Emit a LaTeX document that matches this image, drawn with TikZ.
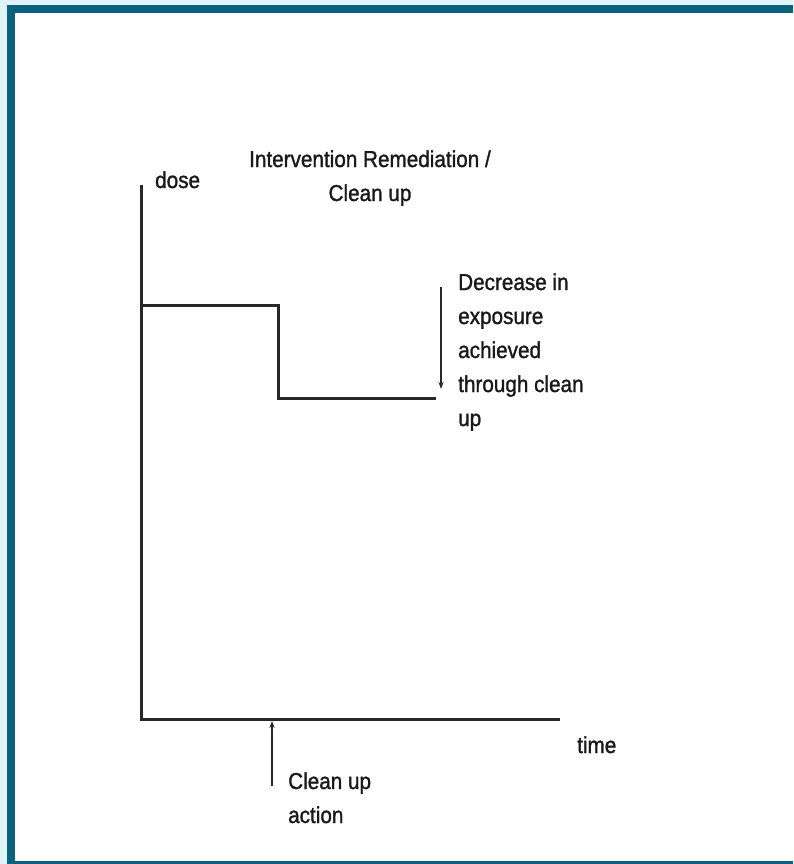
\documentclass[tikz,border=0pt]{standalone}
\usepackage{fontspec}
\setmainfont[FakeStretch=0.9, FakeBold=1.3]{Liberation Sans}
\usetikzlibrary{arrows.meta}
\definecolor{frame}{RGB}{10, 98, 126}
\definecolor{paleblue}{RGB}{222, 244, 248}
\definecolor{ink}{RGB}{40, 40, 40}

\begin{document}
\begin{tikzpicture}[x=1pt, y=-1pt,
  curve/.style={line width=3pt, color=ink},
  pointer/.style={line width=2pt, color=ink, -{Stealth[length=7pt, width=5pt]}},
  label/.style={font=\fontsize{23}{34}\selectfont, inner sep=0pt, color=black!90}]
% Rahmen
\fill[paleblue] (0,0) rectangle (793,864);
\fill[frame] (7,5) rectangle (793,864);
\fill[white] (15,13) rectangle (793,861);
\useasboundingbox (0,0) rectangle (793,864);

% Achsen
\coordinate (origin) at (141,719);
\coordinate (ytop) at (141,185);
\coordinate (xend) at (560,719);
\draw[curve] (ytop) -- (origin) -- (xend);

% Dosisverlauf
\coordinate (start) at (141,305);
\coordinate (drop) at (278,305);
\coordinate (low) at (278,398);
\coordinate (stop) at (436,398);
\draw[curve] (start) -- (drop) -- (low) -- (stop);

% Beschriftung
\node[label, anchor=base west] (dose) at (155,188) {dose};
\node[label, anchor=base, align=center] (title) at (370,201) {Intervention Remediation /\\Clean up};
\node[label, anchor=base west] (time) at (577,753) {time};
\node[label, anchor=base west, align=left] (decrease) at (458,426) {Decrease in\\exposure\\achieved\\through clean\\up};
\node[label, anchor=base west, align=left] (action) at (288,823) {Clean up\\action};

% Pfeile
\coordinate (dtop) at (441,287);
\coordinate (dtip) at (441,389);
\draw[pointer] (dtop) -- (dtip);
\coordinate (atail) at (272,786);
\coordinate (atip) at (272,721);
\draw[pointer] (atail) -- (atip);
\end{tikzpicture}
\end{document}
